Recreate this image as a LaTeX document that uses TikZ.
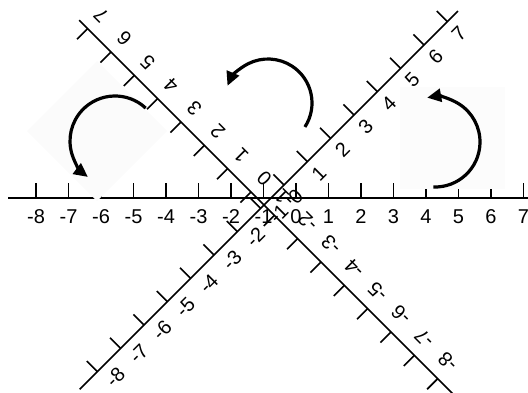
\documentclass[tikz,border=0pt]{standalone}
\usepackage{fontspec}
\setmainfont{Liberation Sans}
\usetikzlibrary{arrows.meta}

\begin{document}
\begin{tikzpicture}[x=0.5pt,y=0.5pt]
  \tikzstyle{axisline} = [line width=0.8pt]
  \tikzstyle{tickmark} = [line width=0.8pt]
  \tikzstyle{numlabel} = [inner sep=0pt, font=\fontsize{10}{12}\selectfont]
  \tikzstyle{patch} = [fill=black!1.5, draw=none]
  \tikzstyle{turn} = [line width=1.6pt,
                      -{Triangle[length=7pt,width=6.5pt]}]

  \useasboundingbox (0,0) rectangle (528,392);

  % horizontal line
  \begin{scope}[shift={(296,194)}]
    \draw[axisline] (-288,0) -- (232,0);
    \foreach \i in {-8,...,7} {
      \draw[tickmark] (32.5*\i,0) -- (32.5*\i,15);
      \node[numlabel] (h\i) at (32.5*\i,-19) {\i};
    }
  \end{scope}

  % line turned by 45
  \begin{scope}[shift={(284,207)}, rotate=45]
    \draw[axisline] (-289,0) -- (246,0);
    \foreach \i in {-8,...,7} {
      \draw[tickmark] (33*\i,0) -- (33*\i,15);
      \node[numlabel, rotate=45] (p\i) at ({33*\i+9*(\i<0)},-16.5) {\i};
    }
  \end{scope}

  % line turned by 135
  \begin{scope}[shift={(251,200)}, rotate=135]
    \draw[axisline] (-287,0) -- (243,0);
    \foreach \i in {-8,...,7} {
      \draw[tickmark] (33*\i,0) -- (33*\i,15);
      \node[numlabel, rotate=135] (q\i) at ({33*\i+5*(\i<0)},-19) {\i};
    }
  \end{scope}

  % pasted backgrounds
  \fill[patch] (27,261) -- (97,331) -- (167,261) -- (97,191) -- cycle;
  \fill[patch, fill=black!1] (400,203) rectangle (505,305);

  % turning arrows
  \draw[turn] ([shift={(47:45)}]115,251) arc[start angle=47, end angle=233, radius=45];
  \draw[turn] ([shift={(-33:44)}]268,289) arc[start angle=-33, end angle=157, radius=44];
  \draw[turn] ([shift={(-92:45)}]435,250) arc[start angle=-92, end angle=100, radius=45];
\end{tikzpicture}
\end{document}
